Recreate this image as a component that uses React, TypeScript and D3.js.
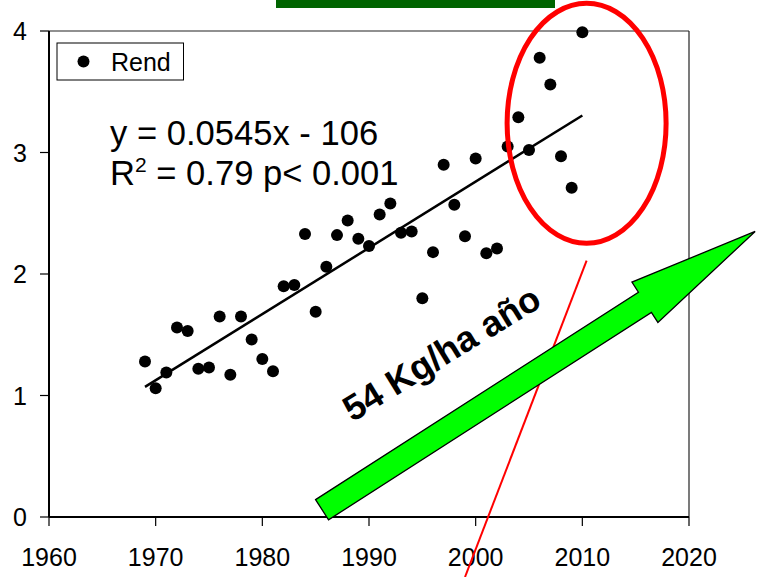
import React from "react";
import * as d3 from "d3";

const years = [1969,1970,1971,1972,1973,1974,1975,1976,1977,1978,1979,1980,1981,1982,1983,1984,1985,1986,1987,1988,1989,1990,1991,1992,1993,1994,1995,1996,1997,1998,1999,2000,2001,2002,2003,2004,2005,2006,2007,2008,2009,2010];
const rend = [1.28,1.06,1.19,1.56,1.53,1.22,1.23,1.65,1.17,1.65,1.46,1.30,1.20,1.90,1.91,2.33,1.69,2.06,2.32,2.44,2.29,2.23,2.49,2.58,2.34,2.35,1.80,2.18,2.90,2.57,2.31,2.95,2.17,2.21,3.05,3.29,3.02,3.78,3.56,2.97,2.71,3.99];
const xTicks = [1960,1970,1980,1990,2000,2010,2020];
const yTicks = [0,1,2,3,4];
const regSlope = 0.0545;
const regIntercept = -106.24;
const regRange = [1969, 2010];
const legendLabel = "Rend";
const eqLine1 = "y = 0.0545x - 106";
const eqLine2Pre = "R";
const eqLine2Post = " = 0.79 p< 0.001";
const rateLabel = "54 Kg/ha año";

const W = 760, H = 577;
const FONT = "'Liberation Sans', Arial, Helvetica, sans-serif";

export default function App() {
  const x = d3.scaleLinear().domain([1960, 2020]).range([49, 689]);
  const y = d3.scaleLinear().domain([0, 4]).range([517, 31]);
  const line = d3.line<number>().x(d => x(d)).y(d => y(regSlope * d + regIntercept));

  // arrow geometry (annotation, in data coords)
  const tail = [x(1985.6), y(0.06)];
  const tip = [x(2026.2), y(2.35)];
  const dx = tip[0] - tail[0], dy = tip[1] - tail[1];
  const len = Math.hypot(dx, dy);
  const ang = Math.atan2(dy, dx) * 180 / Math.PI;
  const sw = 12, hw = 24, hl = 131;
  const arrowPath = `M0,${-sw} L${len - hl},${-sw} L${len - hl},${-hw} L${len},0 L${len - hl},${hw} L${len - hl},${sw} L0,${sw} Z`;

  return (
    <svg width={W} height={H} style={{ position: "absolute", left: 0, top: 0, background: "#fff" }} fontFamily={FONT}>
      {/* top green bar */}
      <rect x={276} y={0} width={279} height={8} fill="#006400" />
      {/* frame */}
      <line x1={x(1960)} x2={x(2020)} y1={y(4)} y2={y(4)} stroke="#222" strokeWidth={1.2} />
      <line x1={x(2020)} x2={x(2020)} y1={y(4)} y2={y(0)} stroke="#222" strokeWidth={1.2} />
      <line x1={x(1960)} x2={x(2020)} y1={y(0)} y2={y(0)} stroke="#000" strokeWidth={2} />
      <line x1={x(1960)} x2={x(1960)} y1={y(4)} y2={y(0)} stroke="#000" strokeWidth={2} />
      {xTicks.map(t => (
        <g key={t}>
          <line x1={x(t)} x2={x(t)} y1={y(0)} y2={y(0) + 9} stroke="#000" strokeWidth={1.2} />
          <text x={x(t)} y={566} textAnchor="middle" fontSize={25} fill="#000">{t}</text>
        </g>
      ))}
      {yTicks.map(t => (
        <g key={t}>
          <line x1={x(1960) - 9} x2={x(1960)} y1={y(t)} y2={y(t)} stroke="#000" strokeWidth={1.2} />
          <text x={27} y={y(t) + 9} textAnchor="end" fontSize={25} fill="#000">{t}</text>
        </g>
      ))}
      {/* legend */}
      <rect x={57} y={43} width={126.5} height={37} fill="#fff" stroke="#000" strokeWidth={1} />
      <circle cx={83.5} cy={61.5} r={6} fill="#000" />
      <text x={111} y={71} fontSize={25} fill="#000">{legendLabel}</text>
      {/* equation */}
      <text x={110} y={145} fontSize={34.6} fill="#000">{eqLine1}</text>
      <text x={110} y={185} fontSize={34.6} fill="#000">
        {eqLine2Pre}<tspan dy={-13} fontSize={21}>2</tspan><tspan dy={13}>{eqLine2Post}</tspan>
      </text>
      {/* regression line */}
      <path d={line(regRange) || ""} fill="none" stroke="#000" strokeWidth={2.5} />
      {/* points */}
      {years.map((yr, i) => (
        <circle key={yr} cx={x(yr)} cy={y(rend[i])} r={6} fill="#000" />
      ))}
      {/* red ellipse */}
      <ellipse cx={x(2010.4)} cy={y(3.24)} rx={79.5} ry={120} fill="none" stroke="#ff0000" strokeWidth={5} />
      {/* red line */}
      <line x1={x(2010.4)} y1={y(2.11)} x2={x(1999.0)} y2={y(-0.494)} stroke="#ff0000" strokeWidth={2} />
      {/* green arrow */}
      <path d={arrowPath} transform={`translate(${tail[0]},${tail[1]}) rotate(${ang})`} fill="#00ff00" stroke="#000" strokeWidth={1.3} strokeLinejoin="miter" />
      {/* rate label */}
      <text transform={`translate(448,364) rotate(-31.5)`} textAnchor="middle" fontSize={36} fontWeight="bold" fill="#000">{rateLabel}</text>
    </svg>
  );
}
